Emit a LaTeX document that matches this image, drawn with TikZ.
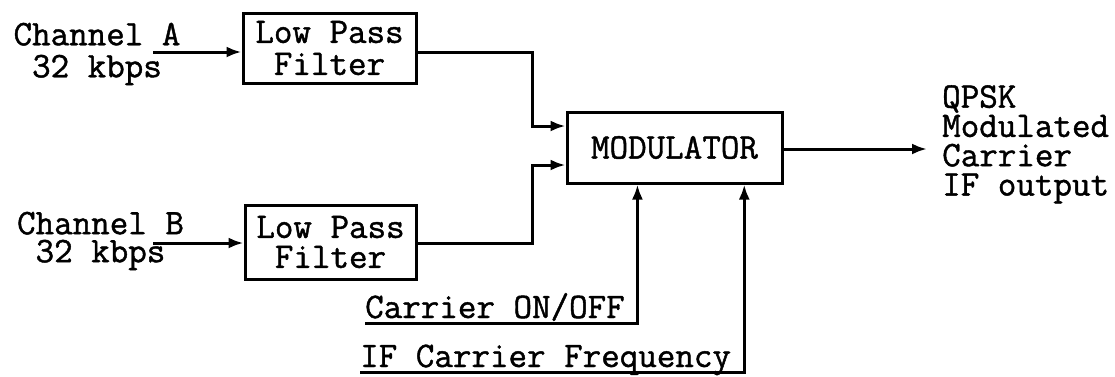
\documentclass[tikz,border=0pt]{standalone}
\usepackage{fontspec}
\usetikzlibrary{arrows.meta,calc}
\newfontfamily\diagtt{Latin Modern Mono}[FakeBold=1.2]
\newcommand\diaglab{\diagtt\fontsize{36}{32}\selectfont}
\begin{document}
\begin{tikzpicture}[x=1pt,y=-1pt,
  box/.style={draw, line width=3pt, inner sep=0pt, align=center, font=\diaglab},
  lab/.style={font=\diaglab, inner sep=0pt},
  arr/.style={-{Latex[length=15pt,width=11pt]}, line width=3pt},
  wire/.style={line width=3pt}]
\useasboundingbox (0,0) rectangle (1115,376);

% blocks
\node[box, minimum width=173pt, minimum height=70pt] (lpfA) at (329.5,48) {Low Pass\\Filter};
\node[box, minimum width=171pt, minimum height=74pt, font=\diagtt\fontsize{36}{30}\selectfont] (lpfB) at (330.5,242) {Low Pass\\[-0pt]Filter};
\node[box, minimum width=215pt, minimum height=71pt] (mod) at (674.5,147.5) {MODULATOR};

% input labels
\node[lab, align=center] (chA) at (97,54) {Channel A\\32 kbps};
\node[lab, align=center, font=\diagtt\fontsize{36}{28}\selectfont] (chB) at (100.5,241) {Channel B\\32 kbps};

% output label
\node[lab, align=left, anchor=north west, font=\diagtt\fontsize{36}{29.3}\selectfont] (qpsk) at (942,85) {QPSK\\Modulated\\Carrier\\IF output};

% control labels
\node[lab, anchor=base west] (onoff) at (365,318) {Carrier ON/OFF};
\node[lab, anchor=base west] (iff) at (360,367) {IF Carrier Frequency};
\coordinate (onoffU) at (365,323);
\coordinate (iffU) at (360,372);

% input arrows
\coordinate (ainA) at (153,52);
\coordinate (ainB) at (153,243);
\draw[arr] (ainA) -- (lpfA.west |- ainA);
\draw[arr] (ainB) -- (lpfB.west |- ainB);

% filters to modulator
\draw[arr] ([yshift=-4pt]lpfA.east) -- ++(115,0) |- ([yshift=21.5pt]mod.west);
\draw[arr] ([yshift=-1pt]lpfB.east) -- ++(115,0) |- ([yshift=-17.5pt]mod.west);

% controls
\draw[arr] (onoffU) -| ($(mod.south west)!0.33!(mod.south east)$);
\draw[arr] (iffU) -| ($(mod.south west)!0.82!(mod.south east)$);

% output
\draw[arr] ([yshift=-1.5pt]mod.east) -- ([xshift=-15pt,yshift=-1.5pt]qpsk.west |- mod.east);
\end{tikzpicture}
\end{document}
